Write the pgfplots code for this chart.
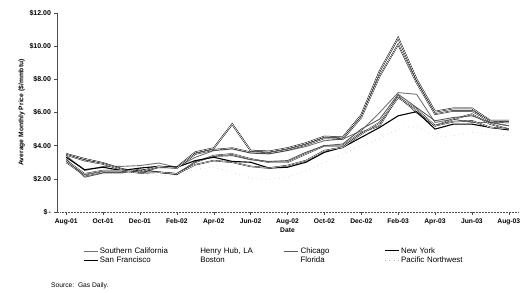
\documentclass[border=0pt]{standalone}
\usepackage{pgfplots}
\pgfplotsset{compat=1.18}
\usepackage{fontspec}
\setmainfont{Liberation Sans}
\begin{document}
\begin{tikzpicture}
\begin{axis}[
  scale only axis, width=461pt, height=199pt,
  xmin=-0.5, xmax=24.5, ymin=0, ymax=12,
  axis x line=bottom, axis y line=left,
  axis line style={black!70, -, line width=0.5pt},
  x axis line style={densely dotted},
  xtick={0,2,4,6,8,10,12,14,16,18,20,22,24},
  xticklabels={Aug-01,Oct-01,Dec-01,Feb-02,Apr-02,Jun-02,Aug-02,Oct-02,Dec-02,Feb-03,Apr-03,Jun-03,Aug-03},
  ytick={0,2,4,6,8,10,12},
  yticklabels={\$\,-,\$2.00,\$4.00,\$6.00,\$8.00,\$10.00,\$12.00},
  tick align=outside, major tick length=2.5pt,
  tick style={black!70, line width=0.4pt},
  /pgf/number format/assume math mode=true,
  xticklabel style={font=\fontsize{6.7}{7}\selectfont\bfseries, yshift=-1pt},
  yticklabel style={font=\fontsize{7}{8}\selectfont\bfseries},
  xlabel={Date}, xlabel style={font=\fontsize{6.7}{7}\selectfont\bfseries, yshift=4pt},
  ylabel={Average Monthly Price (\$/mmbtu)},
  ylabel style={font=\fontsize{6.7}{7}\selectfont\bfseries, yshift=-2pt},
  clip=false,
  legend columns=4,
  legend style={draw=none, fill=none, at={(0.05,-0.16)}, anchor=north west,
    font=\fontsize{7.9}{8.5}\selectfont, row sep=-1pt,
    nodes={text width=82pt, align=left, inner sep=1.5pt}},
  legend image code/.code={\draw[#1] (0pt,0pt) -- (14pt,0pt);},
]
% Southern California
\addplot[black!55, line width=0.9pt] coordinates {
(0,3.4)(1,2.5)(2,2.75)(3,2.75)(4,2.8)(5,2.95)(6,2.7)(7,3.3)(8,3.7)(9,3.8)(10,3.55)(11,3.5)(12,3.7)(13,3.95)(14,4.3)(15,4.4)(16,4.9)(17,6.0)(18,7.2)(19,7.1)(20,5.4)(21,5.6)(22,5.4)(23,5.4)(24,5.2)};
\addlegendentry{Southern California}
% Henry Hub
\addplot[black, line width=0.4pt, double=white, double distance=0.5pt] coordinates {
(0,3.0)(1,2.2)(2,2.4)(3,2.4)(4,2.5)(5,2.4)(6,2.3)(7,3.0)(8,3.4)(9,3.5)(10,3.2)(11,3.0)(12,3.0)(13,3.5)(14,4.0)(15,4.0)(16,4.8)(17,5.2)(18,7.0)(19,6.0)(20,5.2)(21,5.6)(22,5.9)(23,5.3)(24,5.0)};
\addlegendentry{Henry Hub, LA}
% Chicago
\addplot[black!65, line width=0.9pt] coordinates {
(0,3.2)(1,2.1)(2,2.35)(3,2.35)(4,2.6)(5,2.4)(6,2.25)(7,3.05)(8,3.35)(9,3.4)(10,3.15)(11,3.05)(12,3.1)(13,3.6)(14,4.0)(15,4.1)(16,5.0)(17,5.6)(18,7.1)(19,6.3)(20,5.5)(21,5.7)(22,5.8)(23,5.4)(24,5.2)};
\addlegendentry{Chicago}
% New York
\addplot[black, line width=0.5pt, double=white, double distance=0.6pt] coordinates {
(0,3.5)(1,3.2)(2,2.95)(3,2.6)(4,2.4)(5,2.7)(6,2.7)(7,3.6)(8,3.85)(9,5.3)(10,3.7)(11,3.65)(12,3.85)(13,4.15)(14,4.55)(15,4.5)(16,5.85)(17,8.5)(18,10.5)(19,8.0)(20,6.05)(21,6.25)(22,6.25)(23,5.5)(24,5.5)};
\addlegendentry{New York}
% San Francisco
\addplot[black, line width=1.1pt] coordinates {
(0,3.3)(1,2.55)(2,2.7)(3,2.5)(4,2.65)(5,2.75)(6,2.7)(7,3.1)(8,3.3)(9,3.05)(10,3.0)(11,2.65)(12,2.7)(13,3.0)(14,3.6)(15,3.9)(16,4.5)(17,5.1)(18,5.8)(19,6.05)(20,5.0)(21,5.3)(22,5.3)(23,5.1)(24,4.95)};
\addlegendentry{San Francisco}
% Boston
\addplot[black, line width=0.45pt, double=white, double distance=0.5pt] coordinates {
(0,3.45)(1,3.1)(2,2.9)(3,2.55)(4,2.45)(5,2.75)(6,2.65)(7,3.5)(8,3.75)(9,3.85)(10,3.6)(11,3.55)(12,3.75)(13,4.05)(14,4.45)(15,4.4)(16,5.7)(17,8.2)(18,10.1)(19,7.8)(20,5.9)(21,6.1)(22,6.1)(23,5.45)(24,5.4)};
\addlegendentry{Boston}
% Florida
\addplot[black, line width=0.4pt, double=white, double distance=0.5pt] coordinates {
(0,3.1)(1,2.3)(2,2.5)(3,2.5)(4,2.35)(5,2.4)(6,2.3)(7,2.85)(8,3.1)(9,3.0)(10,2.75)(11,2.65)(12,2.8)(13,3.1)(14,3.7)(15,3.9)(16,4.7)(17,5.4)(18,6.9)(19,6.2)(20,5.2)(21,5.45)(22,5.5)(23,5.1)(24,5.0)};
\addlegendentry{Florida}
% Pacific Northwest
\addplot[black!30, line width=0.5pt, loosely dotted] coordinates {
(0,3.0)(1,2.2)(2,2.3)(3,2.3)(4,2.3)(5,2.2)(6,2.2)(7,2.6)(8,2.7)(9,2.4)(10,2.05)(11,1.95)(12,2.1)(13,2.5)(14,3.0)(15,3.5)(16,4.0)(17,4.4)(18,5.0)(19,5.2)(20,4.5)(21,4.6)(22,4.8)(23,4.7)(24,4.6)};
\addlegendentry{Pacific Northwest}
\coordinate (O) at (rel axis cs:0,0);
\node[anchor=west, font=\fontsize{6.7}{7}\selectfont, inner sep=0pt] at ([shift={(-6pt,-74pt)}]O) {Source:\ \ Gas Daily.};
\end{axis}
\pgfresetboundingbox
\path ([shift={(-57pt,-80pt)}]O) rectangle ([shift={(465pt,212pt)}]O);
\end{tikzpicture}
\end{document}
